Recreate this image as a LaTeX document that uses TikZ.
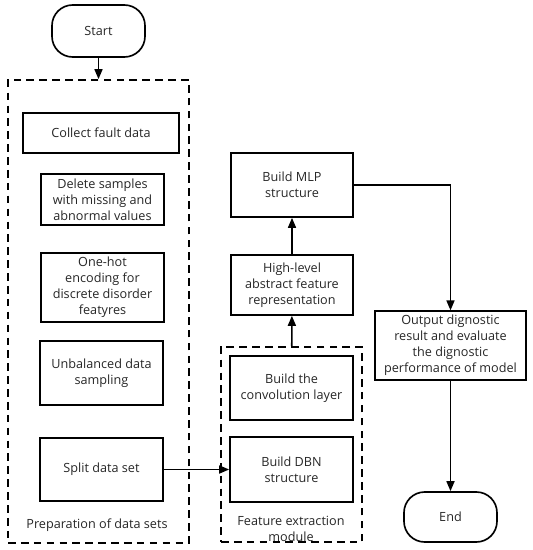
\documentclass[tikz,border=0pt]{standalone}
\usepackage{fontspec}
\setmainfont{Open Sans}
\usetikzlibrary{arrows.meta}

\begin{document}
\begin{tikzpicture}[
		every node/.style={align=center, text=black!85, font=\fontsize{10.8}{13.7}\selectfont},
		box/.style={rectangle, draw, line width=1.4pt},
		term/.style={rectangle, draw, line width=1.4pt, rounded corners=0.62cm},
		group/.style={rectangle, draw, line width=1.4pt, dash pattern=on 6.5pt off 4.5pt},
		flow/.style={line width=1.4pt, -{Triangle[length=0.3cm, width=0.24cm]}}
	]
  \useasboundingbox (0cm, 0cm) rectangle (15.99cm, -16.5cm);
  \node (start) [term, minimum width=2.79cm, minimum height=1.56cm] at (2.955cm, -0.93cm) {Start};
  \node (prep) [group, minimum width=5.43cm, minimum height=13.89cm] at (2.955cm, -9.345cm) {};
  \node (collect) [box, minimum width=4.68cm, minimum height=1.2cm] at (3.03cm, -3.99cm) {Collect fault data};
  \node (delete) [box, minimum width=3.69cm, minimum height=1.53cm] at (3.075cm, -5.985cm) {Delete samples\\with missing and\\abnormal values};
  \node (onehot) [box, minimum width=3.69cm, minimum height=1.95cm] at (3.075cm, -8.625cm) {One-hot\\encoding for\\discrete disorder\\featyres};
  \node (unbal) [box, minimum width=3.69cm, minimum height=1.92cm] at (3.045cm, -11.19cm) {Unbalanced data\\sampling};
  \node (split) [box, minimum width=3.69cm, minimum height=1.89cm] at (3.045cm, -14.085cm) {Split data set};
  \node (prep_label) at (2.91cm, -15.75cm) {Preparation of data sets};
  \node (feat) [group, minimum width=4.23cm, minimum height=5.85cm] at (8.745cm, -13.335cm) {};
  \node (conv) [box, minimum width=3.69cm, minimum height=1.92cm] at (8.745cm, -11.64cm) {Build the\\convolution layer};
  \node (dbn) [box, minimum width=3.69cm, minimum height=1.95cm] at (8.745cm, -14.085cm) {Build DBN\\structure};
  \node (feat_label) at (8.73cm, -15.86cm) {Feature extraction\\module};
  \node (high) [box, minimum width=3.66cm, minimum height=1.8cm] at (8.76cm, -8.55cm) {High-level\\abstract feature\\representation};
  \node (mlp) [box, minimum width=3.66cm, minimum height=1.92cm] at (8.76cm, -5.55cm) {Build MLP\\structure};
  \node (output) [box, minimum width=4.53cm, minimum height=2.01cm] at (13.515cm, -10.365cm) {Output dignostic\\result and evaluate\\the dignostic\\performance of model};
  \node (end) [term, minimum width=2.79cm, minimum height=1.5cm] at (13.515cm, -15.51cm) {End};
  \draw [flow] (start) -- (prep);
  \draw [flow] (split) -- (dbn);
  \draw [flow] (feat) -- (high);
  \draw [flow] (high) -- (mlp);
  \draw [flow] (mlp.east) -| (output.north);
  \draw [flow] (output) -- (end);
\end{tikzpicture}
\end{document}
